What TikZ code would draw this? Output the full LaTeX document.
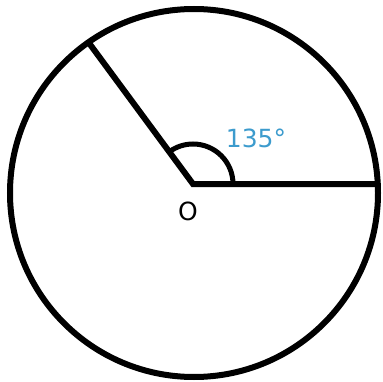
\documentclass[tikz,border=0pt]{standalone}
\usepackage{fontspec}
\setmainfont{DejaVu Sans}
\usetikzlibrary{positioning}
\definecolor{degblue}{RGB}{60,155,205}

\begin{document}
\begin{tikzpicture}[
  x=1pt, y=1pt,
  every node/.style={font=\fontsize{25}{29}\selectfont},
  rim/.style={
    draw,
    circle,
    line width=6pt,
    minimum size=368pt,
    inner sep=0pt,
    outer sep=0pt
  },
  radius line/.style={line width=6pt, line join=miter},
  angle mark/.style={line width=5pt},
  degree/.style={text=degblue}
]
\useasboundingbox (0,0) rectangle (383,381);
\node[rim] (circ) at (194,188) {};
\coordinate (O) at (193,197);
\draw[radius line] (circ.125.6) -- (O) -- (O -| circ.east);
\draw[angle mark] ([shift={(0:40)}]O) arc[start angle=0, end angle=125.6, radius=40];
\node[degree] (deg) at (256,243) {135°};
\node[below=14pt of O, xshift=-5pt] (olabel) {O};
\end{tikzpicture}
\end{document}
